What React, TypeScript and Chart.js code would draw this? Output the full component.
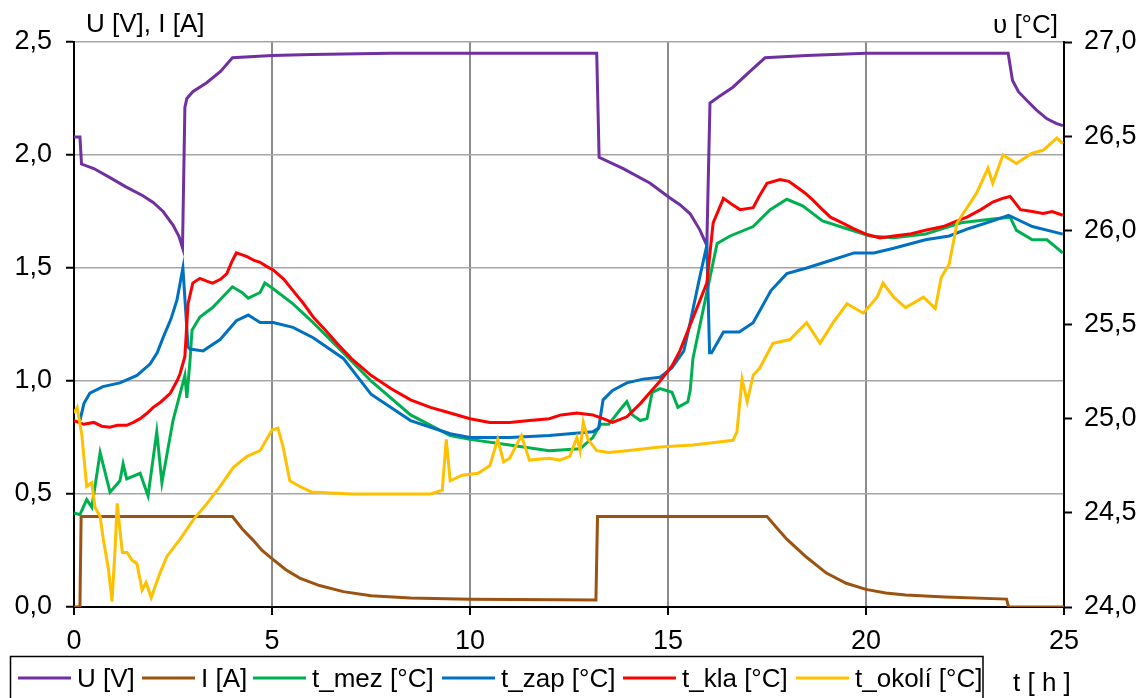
import React, { useEffect, useRef } from "react";
import { Chart, registerables } from "chart.js";

Chart.register(...registerables);

// ---------- Data ----------
const seriesNames = ["U [V]", "I [A]", "t_mez [°C]", "t_zap [°C]", "t_kla [°C]", "t_okolí [°C]"];
const seriesColors = ["#7030A0", "#9C5312", "#00B050", "#0070C0", "#FF0000", "#FFC000"];
const leftAxisTitle = "U [V], I [A]";
const rightAxisTitle = "υ [°C]";
const xAxisTitle = "t [ h ]";

// U [V] (left axis)
const uHours = [0, 0.15, 0.19, 0.5, 0.91, 1.3, 1.74, 2.0, 2.25, 2.5, 2.65, 2.74, 2.8, 2.85, 3.0, 3.35, 3.7, 4.0, 5.0, 6.0, 8.0, 13.2, 13.26, 13.87, 14.55, 15.05, 15.3, 15.56, 15.8, 15.98, 16.06, 16.3, 16.64, 17.07, 17.45, 18.5, 20.0, 23.59, 23.7, 23.85, 24.07, 24.3, 24.57, 24.8, 24.97];
const uValues = [2.08, 2.08, 1.96, 1.94, 1.9, 1.86, 1.82, 1.79, 1.75, 1.69, 1.64, 1.59, 2.21, 2.25, 2.28, 2.32, 2.37, 2.43, 2.44, 2.445, 2.45, 2.45, 1.99, 1.94, 1.875, 1.81, 1.78, 1.74, 1.67, 1.6, 2.23, 2.26, 2.3, 2.37, 2.43, 2.44, 2.45, 2.45, 2.33, 2.28, 2.24, 2.2, 2.16, 2.14, 2.13];

// I [A] (left axis)
const iHours = [0, 0.15, 0.18, 4.0, 4.25, 4.52, 4.75, 5.03, 5.35, 5.7, 6.2, 6.8, 7.5, 8.5, 10.0, 13.18, 13.22, 17.5, 17.75, 18.0, 18.5, 19.0, 19.5, 20.0, 20.5, 21.0, 22.0, 23.55, 23.6, 25.0];
const iValues = [0, 0, 0.4, 0.4, 0.345, 0.296, 0.25, 0.21, 0.165, 0.128, 0.095, 0.068, 0.05, 0.04, 0.034, 0.031, 0.4, 0.4, 0.35, 0.3, 0.22, 0.15, 0.105, 0.078, 0.062, 0.053, 0.044, 0.035, 0, 0];

// t_mez [°C] (right axis)
const mezHours = [0, 0.15, 0.32, 0.45, 0.66, 0.91, 1.16, 1.24, 1.33, 1.67, 1.87, 2.09, 2.22, 2.5, 2.8, 2.85, 2.93, 2.98, 3.18, 3.5, 4.0, 4.24, 4.4, 4.7, 4.82, 5.03, 5.53, 6.04, 6.8, 7.5, 8.5, 9.5, 10.0, 11.0, 12.0, 12.78, 13.1, 13.3, 13.5, 13.8, 13.96, 14.1, 14.3, 14.47, 14.6, 14.8, 15.1, 15.25, 15.5, 15.56, 15.63, 16.06, 16.24, 16.57, 17.15, 17.58, 18.0, 18.4, 18.9, 19.5, 20.1, 20.7, 21.5, 22.4, 23.2, 23.64, 23.8, 24.2, 24.57, 24.97];
const mezValues = [24.5, 24.49, 24.57, 24.53, 24.82, 24.61, 24.67, 24.76, 24.68, 24.71, 24.59, 24.93, 24.66, 24.99, 25.23, 25.11, 25.31, 25.47, 25.54, 25.59, 25.7, 25.67, 25.64, 25.67, 25.72, 25.69, 25.61, 25.51, 25.35, 25.2, 25.02, 24.91, 24.89, 24.86, 24.83, 24.84, 24.9, 24.97, 24.97, 25.05, 25.09, 25.02, 24.99, 25.0, 25.14, 25.16, 25.14, 25.06, 25.09, 25.15, 25.32, 25.75, 25.93, 25.97, 26.02, 26.11, 26.165, 26.13, 26.05, 26.01, 25.97, 25.96, 25.98, 26.04, 26.06, 26.07, 26.0, 25.95, 25.95, 25.88];

// t_zap [°C] (right axis)
const zapHours = [0.15, 0.25, 0.4, 0.73, 1.16, 1.59, 1.92, 2.1, 2.25, 2.45, 2.6, 2.75, 2.88, 2.93, 3.26, 3.69, 4.1, 4.4, 4.7, 5.03, 5.53, 6.04, 6.8, 7.5, 8.5, 9.5, 10.0, 11.0, 12.0, 13.1, 13.25, 13.36, 13.6, 13.96, 14.37, 14.8, 15.1, 15.4, 15.56, 15.8, 15.98, 16.05, 16.1, 16.4, 16.8, 17.15, 17.6, 18.0, 18.5, 19.1, 19.7, 20.2, 20.7, 21.5, 22.1, 22.6, 23.2, 23.6, 24.2, 24.97];
const zapValues = [24.99, 25.08, 25.135, 25.17, 25.19, 25.23, 25.29, 25.35, 25.43, 25.53, 25.63, 25.8, 25.38, 25.37, 25.36, 25.42, 25.52, 25.55, 25.51, 25.51, 25.485, 25.43, 25.32, 25.13, 24.99, 24.92, 24.9, 24.9, 24.91, 24.93, 24.95, 25.1, 25.15, 25.19, 25.21, 25.22, 25.27, 25.36, 25.51, 25.75, 25.92, 25.35, 25.35, 25.46, 25.46, 25.51, 25.68, 25.77, 25.8, 25.84, 25.88, 25.88, 25.905, 25.95, 25.97, 26.01, 26.05, 26.08, 26.02, 25.98];

// t_kla [°C] (right axis)
const klaHours = [0, 0.25, 0.5, 0.7, 0.9, 1.1, 1.33, 1.5, 1.67, 1.85, 2.0, 2.2, 2.43, 2.6, 2.68, 2.8, 2.88, 3.0, 3.18, 3.35, 3.5, 3.7, 3.86, 4.0, 4.1, 4.25, 4.37, 4.55, 4.7, 4.85, 5.03, 5.3, 5.53, 5.8, 6.04, 6.35, 6.64, 7.0, 7.5, 8.0, 8.5, 9.0, 9.5, 10.0, 10.5, 11.0, 11.5, 12.0, 12.3, 12.7, 13.1, 13.36, 13.6, 13.96, 14.3, 14.8, 15.1, 15.3, 15.64, 15.98, 16.14, 16.4, 16.6, 16.82, 17.15, 17.3, 17.5, 17.83, 18.05, 18.25, 18.45, 18.66, 18.9, 19.1, 19.4, 19.67, 20.0, 20.35, 20.7, 21.1, 21.5, 21.95, 22.3, 22.55, 22.9, 23.2, 23.45, 23.64, 23.9, 24.2, 24.47, 24.7, 24.97];
const klaValues = [24.99, 24.97, 24.98, 24.96, 24.955, 24.965, 24.965, 24.98, 25.0, 25.03, 25.06, 25.09, 25.135, 25.2, 25.24, 25.33, 25.61, 25.72, 25.745, 25.73, 25.72, 25.74, 25.77, 25.84, 25.88, 25.87, 25.86, 25.84, 25.83, 25.81, 25.79, 25.74, 25.68, 25.61, 25.54, 25.47, 25.4, 25.32, 25.23, 25.16, 25.1, 25.06, 25.03, 25.0, 24.98, 24.98, 24.99, 25.0, 25.02, 25.03, 25.02, 25.0, 24.98, 25.01, 25.08, 25.2, 25.28, 25.36, 25.54, 25.72, 26.04, 26.17, 26.14, 26.11, 26.12, 26.18, 26.25, 26.27, 26.26, 26.23, 26.2, 26.16, 26.11, 26.07, 26.04, 26.01, 25.98, 25.96, 25.97, 25.98, 26.0, 26.02, 26.05, 26.07, 26.11, 26.15, 26.17, 26.18, 26.11, 26.1, 26.09, 26.1, 26.08];

// t_okolí [°C] (right axis)
const okoHours = [0, 0.08, 0.2, 0.32, 0.45, 0.53, 0.66, 0.74, 0.87, 0.96, 1.04, 1.09, 1.22, 1.34, 1.46, 1.59, 1.72, 1.82, 1.95, 2.17, 2.35, 2.68, 3.0, 3.36, 3.69, 4.02, 4.37, 4.7, 5.0, 5.15, 5.28, 5.45, 5.7, 6.0, 7.0, 8.0, 9.0, 9.3, 9.4, 9.5, 9.8, 10.2, 10.5, 10.7, 10.85, 11.0, 11.3, 11.5, 12.0, 12.27, 12.52, 12.7, 12.78, 12.86, 12.98, 13.2, 13.5, 13.96, 14.8, 15.63, 16.64, 16.74, 16.87, 17.0, 17.15, 17.32, 17.65, 18.08, 18.5, 18.84, 19.17, 19.52, 19.93, 20.28, 20.43, 20.7, 21.0, 21.45, 21.75, 21.9, 22.1, 22.3, 22.55, 22.8, 23.08, 23.2, 23.46, 23.8, 24.2, 24.47, 24.82, 24.97];
const okoValues = [25.03, 25.06, 24.91, 24.64, 24.66, 24.53, 24.48, 24.36, 24.2, 24.03, 24.32, 24.55, 24.29, 24.29, 24.25, 24.23, 24.09, 24.13, 24.05, 24.18, 24.27, 24.36, 24.46, 24.55, 24.64, 24.74, 24.8, 24.83, 24.94, 24.95, 24.85, 24.67, 24.64, 24.61, 24.6, 24.6, 24.6, 24.62, 24.89, 24.67, 24.7, 24.71, 24.75, 24.89, 24.77, 24.79, 24.91, 24.78, 24.79, 24.78, 24.8, 24.9, 24.83, 24.98, 24.89, 24.83, 24.82, 24.83, 24.85, 24.86, 24.885, 24.93, 25.21, 25.09, 25.23, 25.27, 25.4, 25.42, 25.51, 25.4, 25.51, 25.61, 25.56, 25.645, 25.72, 25.645, 25.59, 25.645, 25.585, 25.75, 25.82, 26.04, 26.12, 26.2, 26.33, 26.25, 26.4, 26.355, 26.41, 26.425, 26.49, 26.46];

const xTicks = [0, 5, 10, 15, 20, 25];
const leftTicks = [0, 0.5, 1.0, 1.5, 2.0, 2.5];
const rightTicks = [24.0, 24.5, 25.0, 25.5, 26.0, 26.5, 27.0];

// ---------- Helpers ----------
const toPoints = (xs: number[], ys: number[]) => xs.map((x, i) => ({ x, y: ys[i] }));
const commaFmt = (v: number) => Number(v).toFixed(1).replace(".", ",");
const FONT = '"Liberation Sans", Arial, sans-serif';
const TICK_SIZE = 27;

const legendStarts = [18, 142, 253, 442, 623, 796];

const decorPlugin = {
  id: "decor",
  afterDraw(chart: any) {
    const ctx = chart.ctx;
    ctx.save();
    ctx.font = `26px ${FONT}`;
    ctx.fillStyle = "#000";
    ctx.textBaseline = "alphabetic";
    ctx.textAlign = "left";
    ctx.fillText(leftAxisTitle, 86, 32);
    ctx.textAlign = "right";
    ctx.fillText(rightAxisTitle, 1058, 33);
    ctx.textAlign = "left";
    ctx.fillText(xAxisTitle, 1013, 691);
    // legend box
    ctx.strokeStyle = "#000";
    ctx.lineWidth = 1.5;
    ctx.strokeRect(10.5, 656.5, 972.5, 60);
    chart.data.datasets.forEach((ds: any, i: number) => {
      const x0 = legendStarts[i];
      ctx.strokeStyle = ds.borderColor;
      ctx.lineWidth = 3;
      ctx.beginPath();
      ctx.moveTo(x0, 678);
      ctx.lineTo(x0 + 53, 678);
      ctx.stroke();
      ctx.fillStyle = "#000";
      ctx.fillText(ds.label, x0 + 59, 687);
    });
    ctx.restore();
  },
};

export default function App() {
  const canvasRef = useRef<HTMLCanvasElement | null>(null);

  useEffect(() => {
    if (!canvasRef.current) return;
    const sets = [
      { h: uHours, v: uValues, axis: "y" },
      { h: iHours, v: iValues, axis: "y" },
      { h: mezHours, v: mezValues, axis: "y1" },
      { h: zapHours, v: zapValues, axis: "y1" },
      { h: klaHours, v: klaValues, axis: "y1" },
      { h: okoHours, v: okoValues, axis: "y1" },
    ];
    const datasets = sets.map((s, i) => ({
      label: seriesNames[i],
      data: toPoints(s.h, s.v),
      yAxisID: s.axis,
      borderColor: seriesColors[i],
      backgroundColor: seriesColors[i],
      borderWidth: 3,
      pointRadius: 0,
      tension: 0,
      fill: false,
      order: sets.length - 1 - i,
    }));

    const chart = new Chart(canvasRef.current, {
      type: "line",
      data: { datasets },
      plugins: [decorPlugin],
      options: {
        animation: false,
        responsive: true,
        maintainAspectRatio: false,
        layout: { padding: { top: 42, left: 0, right: 0, bottom: 0 } },
        plugins: { legend: { display: false }, tooltip: { enabled: false } },
        scales: {
          x: {
            type: "linear",
            min: 0,
            max: 25,
            afterBuildTicks: (scale: any) => {
              scale.ticks = xTicks.map((v) => ({ value: v }));
            },
            afterFit: (scale: any) => {
              scale.height = 91;
            },
            ticks: {
              font: { size: TICK_SIZE, family: FONT },
              color: "#000",
              padding: 10,
              maxRotation: 0,
              callback: (v: any) => String(v),
            },
            grid: {
              color: "#8c8c8c",
              lineWidth: 2,
              tickColor: "#000",
              tickLength: 8,
              tickWidth: 2,
            },
            border: { color: "#000", width: 2 },
          },
          y: {
            type: "linear",
            position: "left",
            min: 0,
            max: 2.5,
            afterBuildTicks: (scale: any) => {
              scale.ticks = leftTicks.map((v) => ({ value: v }));
            },
            afterFit: (scale: any) => {
              scale.width = 74;
            },
            ticks: {
              font: { size: TICK_SIZE, family: FONT },
              color: "#000",
              padding: 14,
              callback: (v: any) => commaFmt(v),
            },
            grid: {
              color: "#a6a6a6",
              lineWidth: 1.5,
              tickColor: "#000",
              tickLength: 8,
              tickWidth: 2,
            },
            border: { color: "#000", width: 2 },
          },
          y1: {
            type: "linear",
            position: "right",
            min: 24,
            max: 27,
            afterBuildTicks: (scale: any) => {
              scale.ticks = rightTicks.map((v) => ({ value: v }));
            },
            afterFit: (scale: any) => {
              scale.width = 83;
            },
            ticks: {
              font: { size: TICK_SIZE, family: FONT },
              color: "#000",
              padding: 12,
              callback: (v: any) => commaFmt(v),
            },
            grid: {
              drawOnChartArea: false,
              tickColor: "#000",
              tickLength: 8,
              tickWidth: 2,
            },
            border: { color: "#000", width: 2 },
          },
        },
      },
    });
    return () => chart.destroy();
  }, []);

  return (
    <div style={{ position: "fixed", left: 0, top: 0, width: 1147, height: 698, background: "#fff" }}>
      <canvas ref={canvasRef} />
    </div>
  );
}
